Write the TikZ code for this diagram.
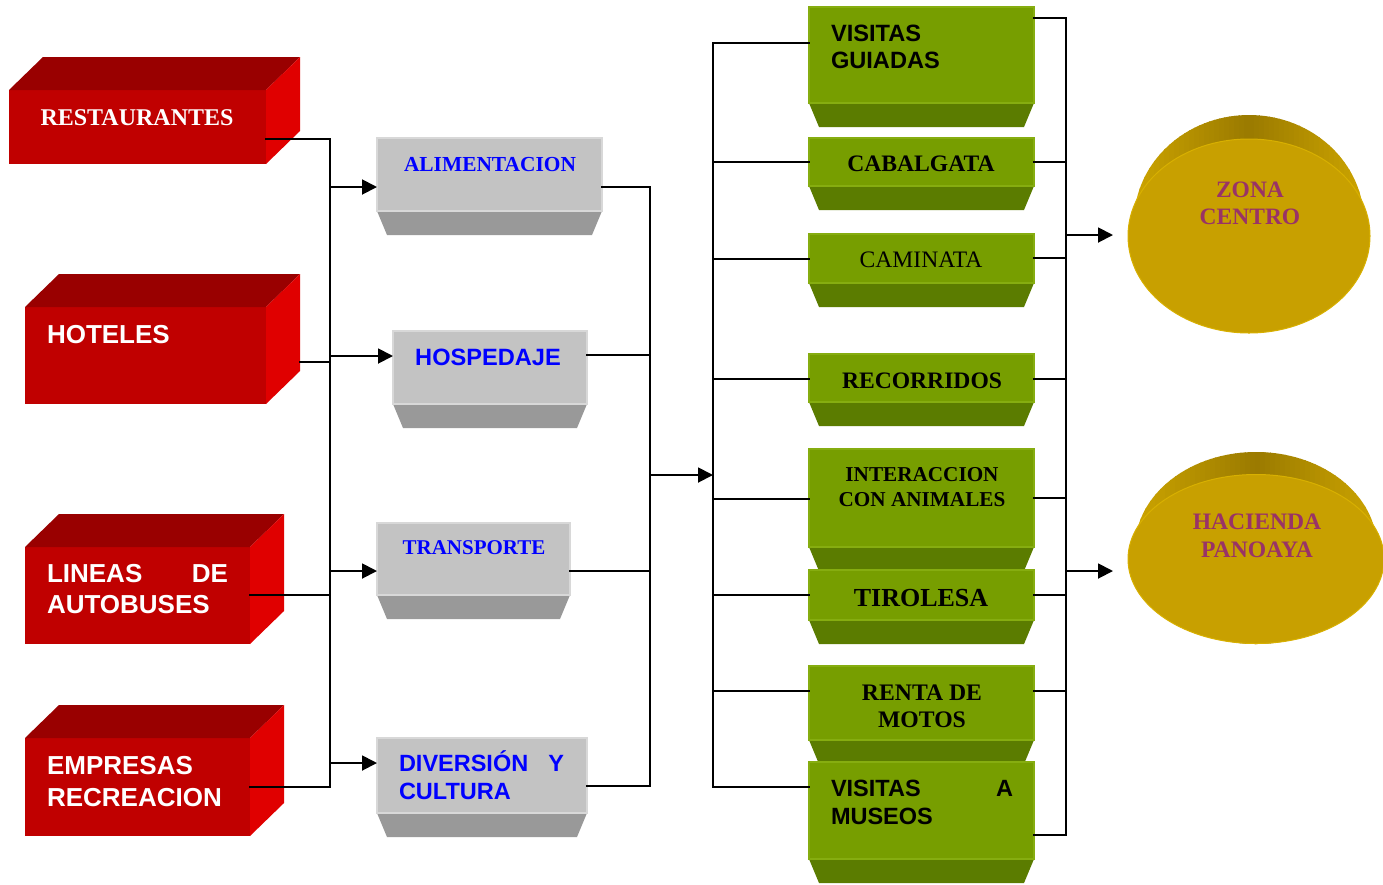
\documentclass[tikz,border=0pt]{standalone}
\usepackage{fontspec}
\setmainfont{Liberation Serif}
\newfontfamily\arialfont{Liberation Sans}
\usetikzlibrary{arrows.meta,calc,shapes.geometric}
\definecolor{redfront}{HTML}{C00000}
\definecolor{redtop}{HTML}{990000}
\definecolor{redside}{HTML}{E00000}
\definecolor{greyface}{HTML}{C3C3C3}
\definecolor{greyedge}{HTML}{D8D8D8}
\definecolor{greybot}{HTML}{999999}
\definecolor{greenface}{HTML}{779E00}
\definecolor{greenedge}{HTML}{86AD10}
\definecolor{greenbot}{HTML}{5B7C00}
\definecolor{goldface}{HTML}{C8A000}
\definecolor{goldedge}{HTML}{D8B000}
\definecolor{goldrim}{HTML}{9A7A00}
\definecolor{goldrimside}{HTML}{CCA400}
\definecolor{lblblue}{HTML}{0000FF}
\definecolor{lblpurple}{HTML}{993366}
\newcommand\fsz[2]{\fontsize{#1}{#2}\selectfont}
\newcommand\redblock[5]{%
  \node[redfacest, minimum width=#4pt, minimum height=#5pt, anchor=north west] (#1) at (#2,#3) {};
  \fill[redtop] (#1.north west) -- ++(34,-33) -- ($(#1.north east)+(34,-33)$) -- (#1.north east) -- cycle;
  \fill[redside] (#1.north east) -- ++(34,-33) -- ($(#1.south east)+(34,-33)$) -- (#1.south east) -- cycle;
}
\newcommand\boxblock[7]{% name,x,y,w,h,facestyle,bottomcolor
  \fill[#7] (#2,#3+#5) -- (#2+#4,#3+#5) -- (#2+#4-10,#3+#5+24) -- (#2+10,#3+#5+24) -- cycle;
  \node[#6, minimum width=#4pt, minimum height=#5pt, anchor=north west] (#1) at (#2,#3) {};
}
\newcommand\rimdisc[4]{% cx, cy, rx, ry : rim with darker middle
  \begin{scope}
    \clip (#1,#2) ellipse [x radius=#3pt, y radius=#4pt];
    \foreach \i in {0,...,50}{
      \pgfmathsetmacro\xx{#1-#3+5*\i}
      \pgfmathsetmacro\pp{100*max(0,1-abs(\xx+2.5-#1)/#3)}
      \fill[goldrim!\pp!goldrimside] (\xx,#2-#4-2) rectangle (\xx+5.6,#2+#4+2);
    }
  \end{scope}
}
\begin{document}
\begin{tikzpicture}[x=1pt,y=-1pt,
  redfacest/.style={fill=redfront, inner sep=0pt, outer sep=0pt},
  greyfacest/.style={fill=greyface, draw=greyedge, line width=1.2pt, inner sep=0pt, outer sep=0pt},
  greenfacest/.style={fill=greenface, draw=greenedge, line width=1.2pt, inner sep=0pt, outer sep=0pt},
  conn/.style={draw=black, line width=1.9pt, line cap=rect},
  arr/.style={conn, -{Triangle[length=15pt,width=15pt]}},
  lbl/.style={inner sep=0pt, outer sep=0pt},
  sansb/.style={font=\arialfont\bfseries\fsz{#1}{28}},
  serifb/.style={font=\bfseries\fsz{#1}{27}},
  disc/.style={ellipse, fill=goldface, draw=goldedge, line width=1pt, inner sep=0pt},
]
\useasboundingbox (0,0) rectangle (1383,884);
\fill[white] (0,0) rectangle (1383,884);

% red blocks
\redblock{r1}{9}{90}{257}{74}
\redblock{r2}{25}{307}{241}{97}
\redblock{r3}{25}{547}{225}{97}
\redblock{r4}{25}{738}{225}{98}

% grey blocks
\boxblock{g1}{377}{138}{225}{73}{greyfacest}{greybot}
\boxblock{g2}{393}{331}{194}{73}{greyfacest}{greybot}
\boxblock{g3}{377}{523}{193}{72}{greyfacest}{greybot}
\boxblock{g4}{377}{738}{210}{75}{greyfacest}{greybot}

% green blocks
\boxblock{v1}{809}{7}{225}{96}{greenfacest}{greenbot}
\boxblock{v2}{809}{138}{225}{48}{greenfacest}{greenbot}
\boxblock{v3}{809}{234}{225}{49}{greenfacest}{greenbot}
\boxblock{v4}{809}{354}{225}{48}{greenfacest}{greenbot}
\boxblock{v5}{809}{449}{225}{98}{greenfacest}{greenbot}
\boxblock{v6}{809}{570}{225}{50}{greenfacest}{greenbot}
\boxblock{v7}{809}{666}{225}{74}{greenfacest}{greenbot}
\boxblock{v8}{809}{762}{225}{97}{greenfacest}{greenbot}

% discs
\rimdisc{1249}{222}{115}{107}
\node[disc, minimum width=242pt, minimum height=194pt] (zc) at (1249,236) {};
\rimdisc{1256}{548}{121}{96}
\node[disc, minimum width=256pt, minimum height=169pt] (hp) at (1256,559) {};

% labels
\node[lbl, serifb=24, text=white, anchor=south] (t1) at (137,126) {RESTAURANTES};
\node[lbl, sansb=26, text=white, anchor=south west] (t2) at (47,344) {HOTELES};
\node[lbl, font=\arialfont\bfseries\fsz{26}{31}, text=white, anchor=south west, align=left] (t3) at (47,614) {\makebox[181pt]{LINEAS\hfill DE}\\AUTOBUSES};
\node[lbl, font=\arialfont\bfseries\fsz{26}{32}, text=white, anchor=south west, align=left] (t4) at (47,807) {EMPRESAS\\RECREACION};

\node[lbl, serifb=21.4, text=lblblue, anchor=south] (tg1) at (490,172) {ALIMENTACION};
\node[lbl, sansb=23.6, text=lblblue, anchor=south] (tg2) at (488,366) {HOSPEDAJE};
\node[lbl, serifb=21, text=lblblue, anchor=south] (tg3) at (474,555) {TRANSPORTE};
\node[lbl, font=\arialfont\bfseries\fsz{23.5}{28}, text=lblblue, anchor=south west, align=left] (tg4) at (399,800) {\makebox[165pt]{DIVERSIÓN\hfill Y}\\CULTURA};

\node[lbl, font=\arialfont\bfseries\fsz{23.6}{27}, anchor=south west, align=left] (tv1) at (831,69) {VISITAS\\GUIADAS};
\node[lbl, serifb=23.6, anchor=south] (tv2) at (921,172) {CABALGATA};
\node[lbl, font=\fsz{23.6}{27}, anchor=south] (tv3) at (921,268) {CAMINATA};
\node[lbl, serifb=23.6, anchor=south] (tv4) at (922,389) {RECORRIDOS};
\node[lbl, font=\bfseries\fsz{21.2}{25}, anchor=south, align=center] (tv5) at (922,507) {INTERACCION\\CON ANIMALES};
\node[lbl, serifb=26, anchor=south] (tv6) at (921,607) {TIROLESA};
\node[lbl, font=\bfseries\fsz{23.7}{27}, anchor=south, align=center] (tv7) at (922,728) {RENTA DE\\MOTOS};
\node[lbl, font=\arialfont\bfseries\fsz{23.5}{28}, anchor=south west, align=left] (tv8) at (831,825) {\makebox[182pt]{VISITAS\hfill A}\\MUSEOS};

\node[lbl, font=\bfseries\fsz{23.5}{27}, text=lblpurple, anchor=south, align=center] (tz) at (1250,225) {ZONA\\CENTRO};
\node[lbl, font=\bfseries\fsz{23.6}{28}, text=lblpurple, anchor=south, align=center] (th) at (1257,558) {HACIENDA\\PANOAYA};

% connectors: red -> bus A
\coordinate (busA) at (330,0);
\coordinate (r1out) at ($(r1.north east)+(0,49)$);
\coordinate (r2out) at ($(r2.north east)+(34,55)$);
\coordinate (r3out) at ($(r3.north east)+(0,48)$);
\coordinate (r4out) at ($(r4.north east)+(0,49)$);
\foreach \n in {r1,r2,r3,r4}{\draw[conn] (\n out) -- (busA |- \n out);}
\draw[conn] (busA |- r1out) -- (busA |- r4out);
\coordinate (g1in) at ($(g1.north west)+(0,49)$);
\coordinate (g2in) at ($(g2.north west)+(0,25)$);
\coordinate (g3in) at ($(g3.north west)+(0,48)$);
\coordinate (g4in) at ($(g4.north west)+(0,25)$);
\foreach \n in {g1,g2,g3,g4}{\draw[arr] (busA |- \n in) -- (\n in);}

% grey -> bus B
\coordinate (busB) at (650,0);
\coordinate (g1out) at ($(g1.north east)+(0,49)$);
\coordinate (g2out) at ($(g2.north east)+(0,24)$);
\coordinate (g3out) at ($(g3.north east)+(0,48)$);
\coordinate (g4out) at ($(g4.north east)+(0,48)$);
\foreach \n in {g1,g2,g3,g4}{\draw[conn] (\n out) -- (busB |- \n out);}
\draw[conn] (busB |- g1out) -- (busB |- g4out);
\coordinate (busC) at (713,0);
\coordinate (midL) at (650,475);
\draw[arr] (midL) -- (busC |- midL);

% bus C -> green, green -> bus D
\coordinate (busD) at (1066,0);
\foreach \n/\dl/\dr in {v1/36/11, v2/24/24, v3/25/24, v4/25/25, v5/50/49, v6/25/25, v7/25/25, v8/25/73}{
  \coordinate (\n in) at ($(\n.north west)+(0,\dl)$);
  \coordinate (\n out) at ($(\n.north east)+(0,\dr)$);
  \draw[conn] (\n in) -- (busC |- \n in);
  \draw[conn] (\n out) -- (busD |- \n out);
}
\draw[conn] (busC |- v1in) -- (busC |- v8in);
\draw[conn] (busD |- v1out) -- (busD |- v8out);
\coordinate (zcin) at (1113,235);
\coordinate (hpin) at (1113,571);
\draw[arr] (busD |- zcin) -- (zcin);
\draw[arr] (busD |- hpin) -- (hpin);
\end{tikzpicture}
\end{document}
